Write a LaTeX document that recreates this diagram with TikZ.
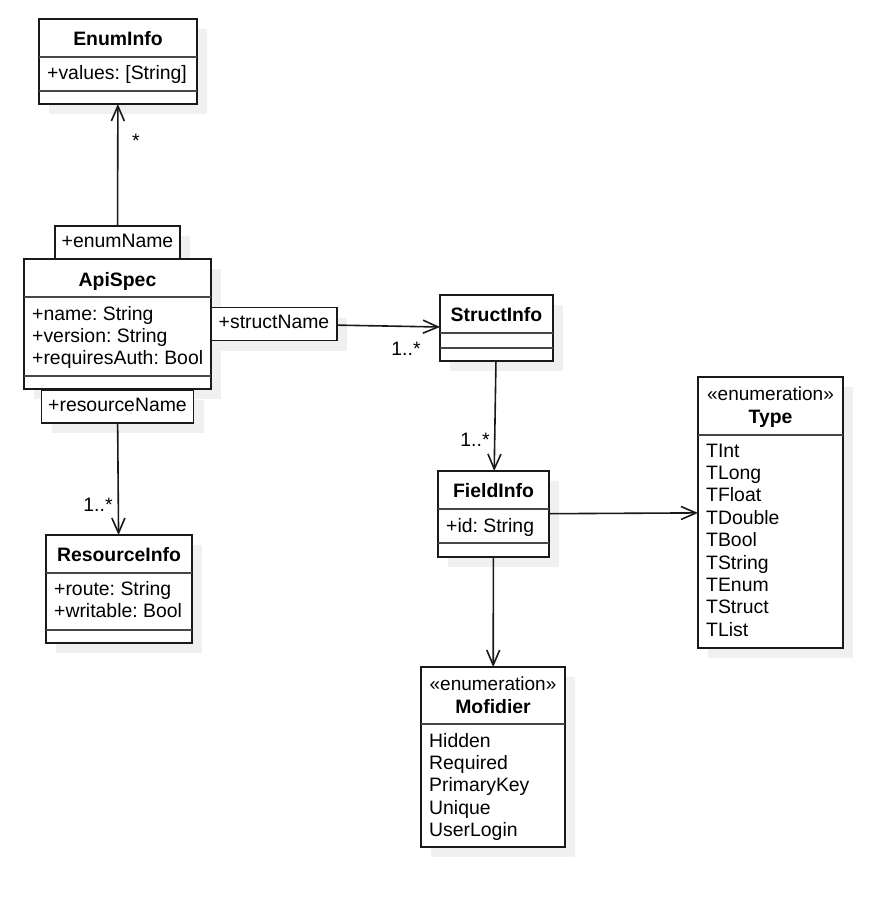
\documentclass[tikz,border=0pt]{standalone}
\usepackage{fontspec}
\setmainfont{Liberation Sans}
\usetikzlibrary{arrows.meta, positioning, calc}
\pgfdeclarelayer{bgfill}
\pgfdeclarelayer{shadow}
\pgfsetlayers{bgfill,shadow,main}
\definecolor{shadowc}{RGB}{240,240,240}
\definecolor{lines}{RGB}{25,25,25}
\newcommand{\classsep}[2]{\draw[sep] ([yshift=-#2pt]#1.north west) -- ([yshift=-#2pt]#1.north east);}
\frenchspacing

\begin{document}
\begin{tikzpicture}[x=1pt, y=-1pt,
    classbox/.style={draw=lines, line width=1.4pt, fill=white, anchor=north west,
      inner sep=0pt, outer sep=0pt},
    rolebox/.style={draw=lines, line width=1.4pt, fill=white, inner sep=0pt,
      outer sep=0pt, minimum height=33pt, text height=13.5pt, text depth=4pt,
      font=\fontsize{19.4}{22}\selectfont},
    title/.style={anchor=base, inner sep=0pt, font=\fontsize{19.4}{22}\selectfont\bfseries},
    stereo/.style={anchor=base, inner sep=0pt, font=\fontsize{19}{22}\selectfont},
    attr/.style={anchor=base west, inner sep=0pt, font=\fontsize{19.4}{22}\selectfont},
    mult/.style={anchor=base, inner sep=0pt, font=\fontsize{19.4}{22}\selectfont},
    assoc/.style={-{Straight Barb[length=15pt, width=13pt]}, draw=lines, line width=1.6pt},
    sep/.style={draw=lines!80, line width=1.3pt}]
  \useasboundingbox (0,0) rectangle (893,903);
  \begin{pgfonlayer}{bgfill}
    \fill[white] (0,0) rectangle (893,903);
  \end{pgfonlayer}

  % classes
  \node[classbox, minimum width=158pt, minimum height=85pt] (enuminfo) at (39,19) {};
  \node[classbox, minimum width=187pt, minimum height=130pt] (apispec) at (24,259) {};
  \node[classbox, minimum width=113pt, minimum height=66pt] (structinfo) at (440,295) {};
  \node[classbox, minimum width=146pt, minimum height=108pt] (resourceinfo) at (46,535) {};
  \node[classbox, minimum width=111pt, minimum height=86pt] (fieldinfo) at (438,471) {};
  \node[classbox, minimum width=145pt, minimum height=271pt] (typeenum) at (698,377) {};
  \node[classbox, minimum width=144pt, minimum height=180pt] (mofidier) at (421,667) {};

  \classsep{enuminfo}{38} \classsep{enuminfo}{72}
  \classsep{apispec}{38} \classsep{apispec}{117}
  \classsep{structinfo}{38} \classsep{structinfo}{53}
  \classsep{resourceinfo}{38} \classsep{resourceinfo}{95}
  \classsep{fieldinfo}{38} \classsep{fieldinfo}{72}
  \classsep{typeenum}{58}
  \classsep{mofidier}{57}

  \node[title] (enuminfo-t) at ([yshift=-26pt]enuminfo.north) {EnumInfo};
  \node[title] (apispec-t) at ([yshift=-27pt]apispec.north) {ApiSpec};
  \node[title] (structinfo-t) at ([yshift=-26pt]structinfo.north) {StructInfo};
  \node[title] (resourceinfo-t) at ([yshift=-26pt]resourceinfo.north) {ResourceInfo};
  \node[title] (fieldinfo-t) at ([yshift=-26pt]fieldinfo.north) {FieldInfo};
  \node[stereo] (typeenum-s) at ([yshift=-23pt]typeenum.north) {«enumeration»};
  \node[title] (typeenum-t) at ([yshift=-46pt]typeenum.north) {Type};
  \node[stereo] (mofidier-s) at ([yshift=-23pt]mofidier.north) {«enumeration»};
  \node[title] (mofidier-t) at ([yshift=-46pt]mofidier.north) {Mofidier};

  \node[attr] (enuminfo-a1) at ([xshift=8pt, yshift=-60pt]enuminfo.north west) {+values: [String]};
  \foreach \a [count=\i] in {+name: String, +version: String, +requiresAuth: Bool}
    \node[attr] (apispec-a\i) at ([xshift=8pt, yshift={-(61+(\i-1)*22)*1pt}]apispec.north west) {\a};
  \foreach \a [count=\i] in {+route: String, +writable: Bool}
    \node[attr] (resourceinfo-a\i) at ([xshift=8pt, yshift={-(60+(\i-1)*22)*1pt}]resourceinfo.north west) {\a};
  \node[attr] (fieldinfo-a1) at ([xshift=8pt, yshift=-61pt]fieldinfo.north west) {+id: String};
  \foreach \a [count=\i] in {TInt, TLong, TFloat, TDouble, TBool, TString, TEnum, TStruct, TList}
    \node[attr] (typeenum-a\i) at ([xshift=8pt, yshift={-(80+(\i-1)*22.4)*1pt}]typeenum.north west) {\a};
  \foreach \a [count=\i] in {Hidden, Required, PrimaryKey, Unique, UserLogin}
    \node[attr] (mofidier-a\i) at ([xshift=8pt, yshift={-(80+(\i-1)*22.4)*1pt}]mofidier.north west) {\a};

  % role names
  \node[rolebox, minimum width=125pt, above=0pt of apispec.north] (enumname) {+enumName};
  \node[rolebox, minimum width=126pt, right=0pt of apispec.east] (structname) {+structName};
  \node[rolebox, minimum width=152pt, below=1pt of apispec.south] (resourcename) {+resourceName};

  % associations
  \draw[assoc] (enumname) -- (enuminfo);
  \draw[assoc] (structname) -- (structinfo);
  \draw[assoc] (resourcename) -- (resourceinfo);
  \draw[assoc] (structinfo) -- (fieldinfo);
  \draw[assoc] (fieldinfo) -- (typeenum);
  \draw[assoc] (fieldinfo) -- (mofidier);

  \node[mult] (m-enum) at (136,147.5) {*};
  \node[mult] (m-struct) at (406,355.5) {1..*};
  \node[mult] (m-res) at (98,511.5) {1..*};
  \node[mult] (m-field) at (475,446.5) {1..*};

  \begin{pgfonlayer}{shadow}
    \foreach \n in {enuminfo, apispec, structinfo, resourceinfo, fieldinfo,
        typeenum, mofidier, enumname, structname, resourcename}
      \fill[shadowc] ([shift={(10pt,-10pt)}]\n.south west) rectangle ([shift={(10pt,-10pt)}]\n.north east);
  \end{pgfonlayer}
\end{tikzpicture}
\end{document}
